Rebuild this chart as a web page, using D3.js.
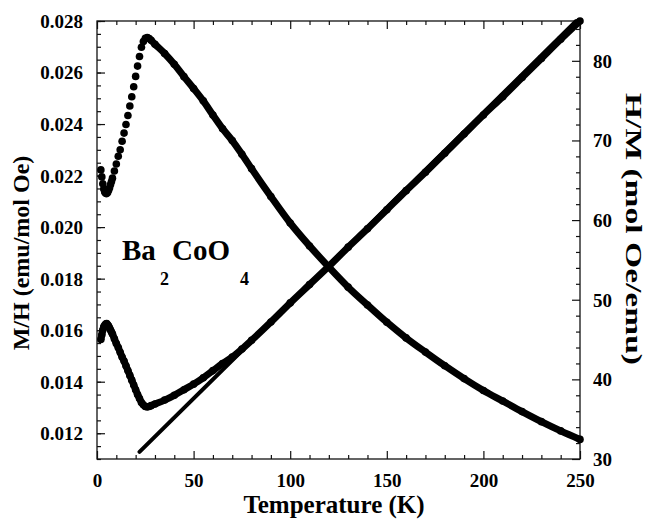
<!DOCTYPE html>
<html>
<head>
<meta charset="utf-8">
<script src="https://cdn.jsdelivr.net/npm/d3@7"></script>
<style>
  body { margin: 0; background: #fff; }
  text { font-family: "Liberation Serif", "Times New Roman", serif; font-weight: bold; fill: #000; }
</style>
</head>
<body>
<div id="chart"></div>
<script>
// temperatures (K) of the measured points (finer steps below 8 K)
const temps = [2, 2.5, 3, 3.5, 4, 4.5, 5, 5.5, 6, 6.5, 7, 7.5, 8, 9, 10, 11, 12, 13, 14, 15, 16, 17, 18, 19,
  20, 21, 22, 23, 24, 25, 26, 27, 28,
  30, 35, 40, 45, 50, 55, 60, 65, 70, 75, 80, 90, 100, 110, 120, 130, 140, 150, 160, 170, 180, 190, 200,
  210, 220, 230, 240, 250];

// M/H (emu/mol Oe), left axis
const chiValues = [0.02222, 0.02195, 0.02168, 0.02148, 0.02136, 0.02131, 0.02130, 0.02134, 0.02143, 0.02153,
  0.02165, 0.02177, 0.02190, 0.02218, 0.02245, 0.02275,
  0.02300, 0.02333, 0.02365, 0.02398, 0.02433, 0.02470, 0.02506, 0.02545, 0.02585, 0.02625, 0.02662,
  0.02698, 0.02720, 0.02733, 0.02736, 0.02732, 0.02725,
  0.02710, 0.02674, 0.02632, 0.02584, 0.02538, 0.02490, 0.02435, 0.02382, 0.02336, 0.02283, 0.02227,
  0.02119, 0.02016, 0.01927, 0.01845, 0.01767, 0.01698, 0.01631, 0.01570, 0.01515, 0.01462, 0.01412,
  0.01366, 0.01325, 0.01284, 0.01245, 0.01209, 0.01176];

// H/M (mol Oe/emu), right axis
const invChiValues = [45.0, 45.6, 46.2, 46.6, 46.8, 46.95, 47.0, 46.85, 46.7, 46.45, 46.2, 45.95, 45.7,
  45.1, 44.5, 44.0, 43.4, 42.8, 42.3, 41.7,
  41.1, 40.5, 39.9, 39.3, 38.7, 38.1, 37.6, 37.1, 36.8, 36.6, 36.55, 36.6, 36.7,
  36.9, 37.4, 38.0, 38.7, 39.4, 40.2, 41.1, 42.0, 42.8, 43.8, 44.9, 47.2, 49.6, 51.9, 54.2, 56.6, 58.9,
  61.3, 63.7, 66.0, 68.4, 70.8, 73.2, 75.5, 77.9, 80.3, 82.7, 85.0];

// Curie-Weiss fit line (H/M)
const fitTemps = [22, 248];
const fitValues = [30.9, 85.0];

const xTicks = [0, 50, 100, 150, 200, 250];
const leftTicks = [0.012, 0.014, 0.016, 0.018, 0.020, 0.022, 0.024, 0.026, 0.028];
const rightTicks = [30, 40, 50, 60, 70, 80];

const width = 647, height = 519;
const plotL = 97, plotR = 580, plotT = 21, plotB = 459;

const svg = d3.select('#chart').append('svg').attr('width', width).attr('height', height);

const x = d3.scaleLinear().domain([0, 250]).range([plotL, plotR]);
const yL = d3.scaleLinear().domain([0.011, 0.028]).range([plotB, plotT]);
const yR = d3.scaleLinear().domain([30, 85]).range([plotB, plotT]);

function styleAxis(g) {
  g.attr('font-size', 19).attr('color', '#111');
  g.select('.domain').remove();
  g.selectAll('.tick line').attr('stroke-width', 1.2);
}

// minor ticks
const xMinor = d3.range(0, 251, 10).filter(d => d % 50 !== 0);
const lMinor = d3.range(0, 35).map(i => 0.011 + i * 0.0005).filter(d => d <= 0.02801);
const rMinor = d3.range(30, 86, 2).filter(d => d % 10 !== 0);

svg.append('g').attr('transform', `translate(0,${plotB})`)
  .call(d3.axisBottom(x).tickValues(xMinor).tickSize(-4).tickSizeOuter(0).tickFormat(''))
  .call(styleAxis);
svg.append('g').attr('transform', `translate(0,${plotT})`)
  .call(d3.axisTop(x).tickValues(xMinor).tickSize(-4).tickSizeOuter(0).tickFormat(''))
  .call(styleAxis);
svg.append('g').attr('transform', `translate(${plotL},0)`)
  .call(d3.axisLeft(yL).tickValues(lMinor).tickSize(-4).tickSizeOuter(0).tickFormat(''))
  .call(styleAxis);
svg.append('g').attr('transform', `translate(${plotR},0)`)
  .call(d3.axisRight(yR).tickValues(rMinor).tickSize(-4).tickSizeOuter(0).tickFormat(''))
  .call(styleAxis);

// major ticks + labels
svg.append('g').attr('transform', `translate(0,${plotB})`)
  .call(d3.axisBottom(x).tickValues(xTicks).tickSize(-8).tickSizeOuter(0).tickPadding(14.5).tickFormat(d3.format('d')))
  .call(styleAxis);
svg.append('g').attr('transform', `translate(0,${plotT})`)
  .call(d3.axisTop(x).tickValues(xTicks).tickSize(-8).tickSizeOuter(0).tickFormat(''))
  .call(styleAxis);
svg.append('g').attr('transform', `translate(${plotL},0)`)
  .call(d3.axisLeft(yL).tickValues(leftTicks).tickSize(-8).tickSizeOuter(0).tickPadding(14).tickFormat(d3.format('.3f')))
  .call(styleAxis)
  .call(g => g.selectAll('text').attr('dy', '0.34em'));
svg.append('g').attr('transform', `translate(${plotR},0)`)
  .call(d3.axisRight(yR).tickValues(rightTicks).tickSize(-8).tickSizeOuter(0).tickPadding(13).tickFormat(d3.format('d')))
  .call(styleAxis)
  .call(g => g.selectAll('text').attr('dy', '0.34em'));

// frame
svg.append('rect')
  .attr('x', plotL).attr('y', plotT)
  .attr('width', plotR - plotL).attr('height', plotB - plotT)
  .attr('fill', 'none').attr('stroke', '#111').attr('stroke-width', 1.3);

// fit line
const fit = fitTemps.map((t, i) => ({ t: t, v: fitValues[i] }));
svg.append('path')
  .datum(fit)
  .attr('fill', 'none')
  .attr('stroke', '#000')
  .attr('stroke-width', 4)
  .attr('stroke-linecap', 'round')
  .attr('d', d3.line().x(d => x(d.t)).y(d => yR(d.v)));

const chi = temps.map((t, i) => ({ t: t, v: chiValues[i] }));
const invChi = temps.map((t, i) => ({ t: t, v: invChiValues[i] }));

// H/M band
svg.append('path')
  .datum(invChi)
  .attr('fill', 'none')
  .attr('stroke', '#000')
  .attr('stroke-width', 7)
  .attr('stroke-linejoin', 'round')
  .attr('d', d3.line().curve(d3.curveMonotoneX).x(d => x(d.t)).y(d => yR(d.v)));

// M/H band above the peak, where the points merge
svg.append('path')
  .datum(chi.filter(d => d.t >= 26))
  .attr('fill', 'none')
  .attr('stroke', '#000')
  .attr('stroke-width', 7)
  .attr('stroke-linejoin', 'round')
  .attr('d', d3.line().curve(d3.curveMonotoneX).x(d => x(d.t)).y(d => yL(d.v)));

svg.append('g').selectAll('circle.chi')
  .data(chi).enter().append('circle')
  .attr('cx', d => x(d.t)).attr('cy', d => yL(d.v)).attr('r', 3.8).attr('fill', '#000');

svg.append('g').selectAll('circle.inv')
  .data(invChi).enter().append('circle')
  .attr('cx', d => x(d.t)).attr('cy', d => yR(d.v)).attr('r', 3.8).attr('fill', '#000');

// axis titles
svg.append('text')
  .attr('x', 334).attr('y', 513)
  .attr('text-anchor', 'middle')
  .attr('font-size', 25)
  .text('Temperature (K)');

svg.append('text')
  .attr('transform', 'translate(29,253) rotate(-90)')
  .attr('text-anchor', 'middle')
  .attr('font-size', 24)
  .text('M/H (emu/mol Oe)');

svg.append('text')
  .attr('transform', 'translate(626,229) rotate(90)')
  .attr('text-anchor', 'middle')
  .attr('font-size', 24)
  .attr('textLength', 272)
  .attr('lengthAdjust', 'spacingAndGlyphs')
  .text('H/M (mol Oe/emu)');

// compound label
const label = svg.append('g');
label.append('text').attr('x', 122).attr('y', 260).attr('font-size', 29).text('Ba');
label.append('text').attr('x', 160).attr('y', 285).attr('font-size', 18).text('2');
label.append('text').attr('x', 172).attr('y', 260).attr('font-size', 29).text('CoO');
label.append('text').attr('x', 240).attr('y', 285).attr('font-size', 18).text('4');
</script>
</body>
</html>
